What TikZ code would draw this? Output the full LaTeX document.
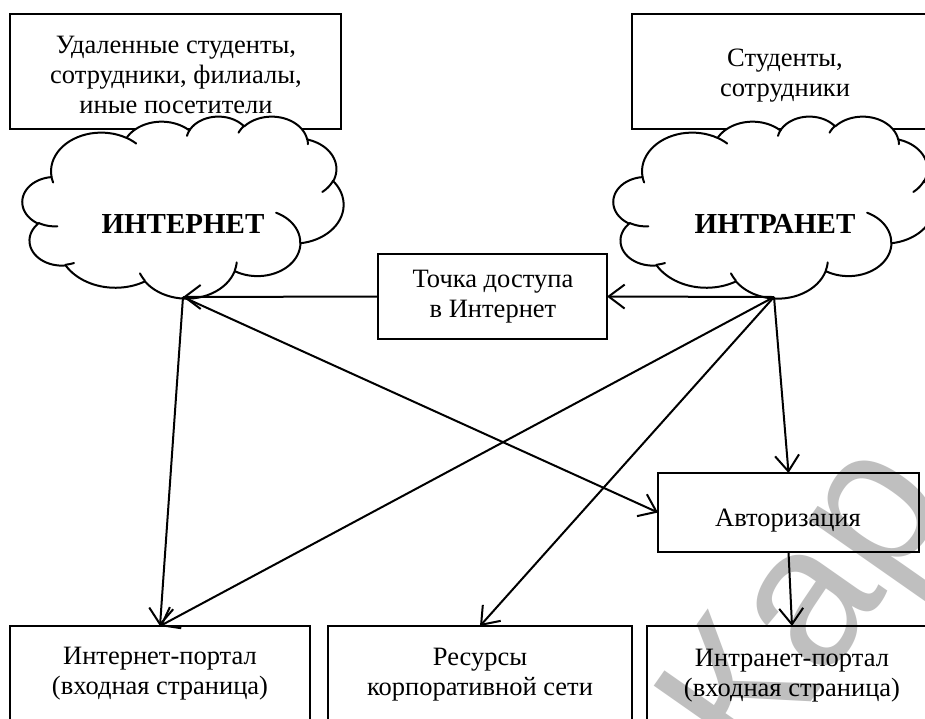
\documentclass[tikz,border=0pt]{standalone}
\usepackage{fontspec}
\setmainfont{Liberation Serif}
\newfontfamily\wmfont{Liberation Sans}
\usetikzlibrary{arrows.meta}

% one elliptic arc of the Word "cloud" shape (visual angles -> parametric)
\newcommand\wcarc[6]{% px py wR hR stAng swAng
  \pgfmathsetmacro\wcA{#5}%
  \pgfmathsetmacro\wcB{#5+#6}%
  \pgfmathsetmacro\wcta{atan2(#3*sin(\wcA),#4*cos(\wcA))}%
  \pgfmathsetmacro\wcraw{atan2(#3*sin(\wcB),#4*cos(\wcB))}%
  \pgfmathsetmacro\wcD{\wcraw-\wcta}%
  \pgfmathsetmacro\wcD{\wcD<0 ? \wcD+360 : \wcD}%
  \pgfmathsetmacro\wctb{\wcta+\wcD}%
  \pgfmathsetmacro\wccx{#1-#3*cos(\wcta)}%
  \pgfmathsetmacro\wccy{#2-#4*sin(\wcta)}%
  \pgfmathsetmacro\wcex{\wccx+#3*cos(\wctb)}%
  \pgfmathsetmacro\wcey{\wccy+#4*sin(\wctb)}%
}
\newcommand\WordCloud[4]{% left, top, width, height (y down)
  \pgfmathsetmacro\wcsx{#3/100}%
  \pgfmathsetmacro\wcsy{#4/100}%
  \xdef\wcpx{9.0278}\xdef\wcpy{33.2639}%
  \gdef\wcpath{}%
  \foreach \wcW/\wcH/\wcS/\wcSw in {%
     15.6319/21.2731/-190.4875/123.7805,
     12.3449/16.8218/-144.1024/89.9452,
     10.1042/13.7616/-145.8079/99.7230,
     11.2431/15.2662/-130.9861/117.2417,
     12.3449/16.8356/-78.7089/109.0269,
     15.6829/21.3426/-46.2673/130.2690,
     13.3912/18.2106/0.6250/114.0333,
     15.6296/21.3310/22.4516/115.1726,
     17.8704/24.4051/66.2426/75.7110,
     10.0926/13.6991/-274.9421/146.7356,
     10.0579/13.7616/-246.8285/152.5189}{%
    \wcarc{\wcpx}{\wcpy}{\wcW}{\wcH}{\wcS}{\wcSw}%
    \foreach \wck in {1,...,24}{%
      \pgfmathsetmacro\wcang{\wcta+\wcD*\wck/24}%
      \pgfmathsetmacro\wcqx{#1+\wcsx*(\wccx+\wcW*cos(\wcang))}%
      \pgfmathsetmacro\wcqy{#2+\wcsy*(\wccy+\wcH*sin(\wcang))}%
      \xdef\wcpath{\wcpath -- (\wcqx,\wcqy)}%
    }%
    \xdef\wcpx{\wcex}\xdef\wcpy{\wcey}%
  }%
  \draw[cloudline] ({#1+\wcsx*9.0278},{#2+\wcsy*33.2639}) \wcpath -- cycle;
  \foreach \wcX/\wcY/\wcW/\wcH/\wcS/\wcSw in {%
     10.8634/60.5949/10.0579/13.7616/86.7420/26.4295,
     16.0370/80.7847/10.0926/13.6991/73.6105/11.4475,
     38.1435/90.4861/15.6296/21.3310/137.6242/14.0811,
     66.7292/80.4421/15.6296/21.3310/6.4533/15.9984,
     79.0023/53.1343/13.3912/18.2106/-70.2924/70.9174,
     96.7546/35.5417/12.3449/16.8356/30.3180/27.7515,
     88.7130/12.5602/11.2431/15.2662/-13.7443/14.8589,
     67.3102/9.1481/11.2431/15.2662/-149.1815/18.1954,
     51.2523/10.9259/10.1042/13.7616/-163.4943/17.6864,
     32.4074/12.0185/15.6319/21.2731/-66.7070/12.3194,
     9.5532/36.5486/15.6319/21.2731/157.6544/11.8539}{%
    \wcarc{\wcX}{\wcY}{\wcW}{\wcH}{\wcS}{\wcSw}%
    \pgfmathsetmacro\wcqx{#1+\wcsx*\wcX}%
    \pgfmathsetmacro\wcqy{#2+\wcsy*\wcY}%
    \xdef\wcinner{(\wcqx,\wcqy)}%
    \foreach \wck in {1,...,12}{%
      \pgfmathsetmacro\wcang{\wcta+\wcD*\wck/12}%
      \pgfmathsetmacro\wcqx{#1+\wcsx*(\wccx+\wcW*cos(\wcang))}%
      \pgfmathsetmacro\wcqy{#2+\wcsy*(\wccy+\wcH*sin(\wcang))}%
      \xdef\wcinner{\wcinner -- (\wcqx,\wcqy)}%
    }%
    \draw[cloudinner] \wcinner;
  }%
}

\tikzset{
  boxshape/.style={draw, line width=2pt, inner sep=0pt, outer sep=0pt},
  boxtext/.style={align=center, inner sep=0pt, font=\fontsize{26.5}{30}\selectfont},
  cloudtext/.style={inner sep=0pt, font=\fontsize{29}{32}\selectfont\bfseries},
  cloudline/.style={line width=2pt, fill=white, line join=round},
  cloudinner/.style={line width=2pt, line cap=round, line join=round},
  conn/.style={line width=2pt, -{Straight Barb[length=16pt,width=24pt,line width=2pt]}},
  watermark/.style={text=black!25, font=\fontsize{200}{200}\selectfont\wmfont},
}

\begin{document}
\begin{tikzpicture}[x=1pt,y=-1pt]
\useasboundingbox (0,0) rectangle (925,718);
\clip (0,0) rectangle (925,718);
\fill[white] (0,0) rectangle (925,718);

% watermark
\node[watermark, rotate=55] (wm) at (815,612) {Кар};

% top boxes
\node[boxshape, minimum width=331pt, minimum height=115pt] (tl) at (175.5,71.5) {};
\node[boxtext] (tlT) at (176,75) {Удаленные студенты,\\сотрудники, филиалы,\\иные посетители};
\node[boxshape, minimum width=306pt, minimum height=115pt] (tr) at (785,71.5) {};
\node[boxtext] (trT) at (785,76) {Студенты,\\сотрудники};

% clouds
\WordCloud{22.5}{116}{321}{182}
\WordCloud{613.5}{116}{321}{182}
\node[cloudtext] (inet) at (183,224) {ИНТЕРНЕТ};
\node[cloudtext] (intra) at (775,224) {ИНТРАНЕТ};
\coordinate (nB) at (183,297);
\coordinate (iB) at (774,297);

% middle boxes
\node[boxshape, minimum width=229pt, minimum height=85pt] (ap) at (492.5,296.5) {};
\node[boxtext] (apT) at (493,297) {Точка доступа\\в Интернет};
\node[boxshape, minimum width=261pt, minimum height=79pt] (aut) at (788.5,512.5) {};
\node[boxtext] (autT) at (788,521) {Авторизация};

% bottom boxes
\node[boxshape, minimum width=300pt, minimum height=134pt] (ip1) at (160,693) {};
\node[boxtext] (ip1T) at (160,674) {Интернет-портал\\(входная страница)};
\node[boxshape, minimum width=304pt, minimum height=134pt] (res) at (480,693) {};
\node[boxtext] (resT) at (480,675) {Ресурсы\\корпоративной сети};
\node[boxshape, minimum width=290pt, minimum height=134pt] (ip2) at (792,693) {};
\node[boxtext] (ip2T) at (792,676) {Интранет-портал\\(входная страница)};

% connectors
\draw[conn] (iB) -- (ap.east);
\draw[conn] (ap.west) -- (nB);
\draw[conn] (nB) -- (ip1.north);
\draw[conn] (nB) -- (aut.west);
\draw[conn] (iB) -- (ip1.north);
\draw[conn] (iB) -- (res.north);
\draw[conn] (iB) -- (aut.north);
\draw[conn] (aut.south) -- (ip2.north);
\end{tikzpicture}
\end{document}
